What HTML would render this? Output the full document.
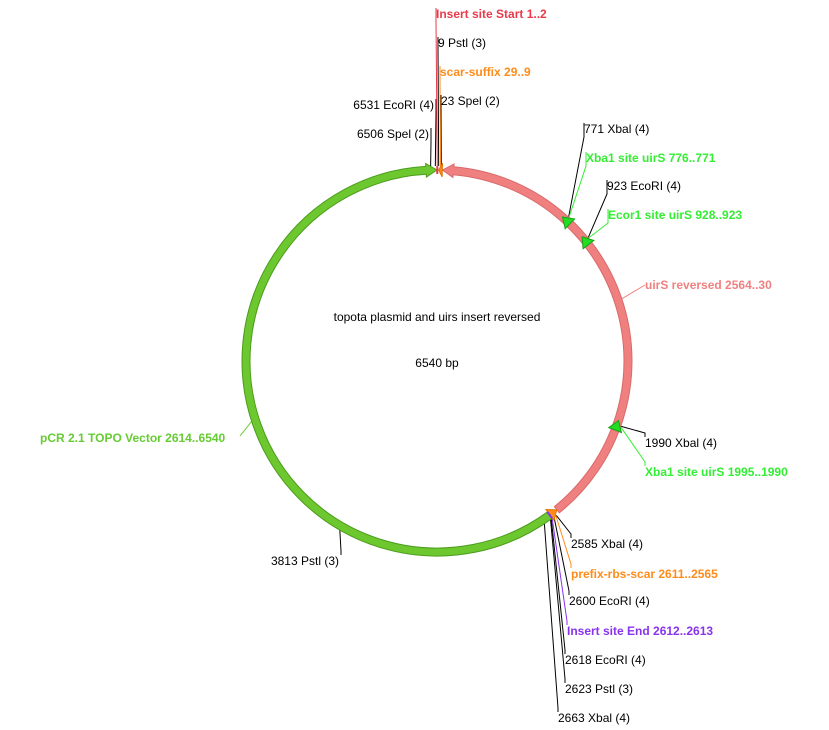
<!DOCTYPE html>
<html><head><meta charset="utf-8"><style>
html,body{margin:0;padding:0;background:#fff}
svg{display:block;font-family:"Liberation Sans",Arial,sans-serif;font-size:12px}
.b{font-weight:bold}
</style></head><body>
<svg id="map" width="829" height="730" viewBox="0 0 829 730"></svg>
<script>
const totalBp = 6540;
const featureNames = ["uirS reversed","pCR 2.1 TOPO Vector","Xba1 site uirS 776..771","Ecor1 site uirS 928..923","Xba1 site uirS 1995..1990","scar-suffix","prefix-rbs-scar","Insert site Start","Insert site End"];
const featureStart = [30,2614,771,923,1990,9,2565,1,2612];
const featureEnd = [2564,6540,776,928,1995,29,2611,2,2613];
const featureReverse = [true,false,true,true,true,true,true,false,false];
const siteLabels = ["9 Pstl (3)","23 Spel (2)","6531 EcoRI (4)","6506 Spel (2)","771 Xbal (4)","923 EcoRI (4)","1990 Xbal (4)","3813 Pstl (3)","2585 Xbal (4)","2600 EcoRI (4)","2618 EcoRI (4)","2623 Pstl (3)","2663 Xbal (4)"];
const sitePos = [9,23,6531,6506,771,923,1990,3813,2585,2600,2618,2623,2663];

const featStyle = [
 {fill:"#f08080",stroke:"#d86a6a",min:0,label:"uirS reversed 2564..30",color:"#f08080",lx:645,ly:289,a:"start",ax:645,ay:285},
 {fill:"#6cc82e",stroke:"#4c9c1c",min:0,label:"pCR 2.1 TOPO Vector 2614..6540",color:"#66cc33",lx:40,ly:442,a:"start",ax:240,ay:436},
 {fill:"#22dd22",stroke:"#18a018",min:55,label:"Xba1 site uirS 776..771",color:"#33ee33",lx:586,ly:162,a:"start"},
 {fill:"#22dd22",stroke:"#18a018",min:55,label:"Ecor1 site uirS 928..923",color:"#33ee33",lx:608,ly:219,a:"start"},
 {fill:"#22dd22",stroke:"#18a018",min:55,label:"Xba1 site uirS 1995..1990",color:"#33ee33",lx:645,ly:476,a:"start"},
 {fill:"#ff8c1a",stroke:"#e07000",min:0,label:"scar-suffix 29..9",color:"#ff8c1a",lx:440,ly:76,a:"start"},
 {fill:"#ff8c1a",stroke:"#e07000",min:0,label:"prefix-rbs-scar 2611..2565",color:"#ff8c1a",lx:571,ly:578,a:"start"},
 {fill:"#e83a4a",stroke:"#e83a4a",min:-1,label:"Insert site Start 1..2",color:"#e83a4a",lx:436,ly:18,a:"start"},
 {fill:"#8833ee",stroke:"#8833ee",min:-1,label:"Insert site End 2612..2613",color:"#8833ee",lx:567,ly:635,a:"start"}
];
const siteLayout = [
 {lx:438,ly:47,a:"start"},{lx:441,ly:105,a:"start"},{lx:434,ly:109,a:"end"},{lx:429,ly:138,a:"end"},
 {lx:584,ly:133,a:"start"},{lx:607,ly:190,a:"start"},{lx:645,ly:447,a:"start"},{lx:339,ly:565,a:"end"},
 {lx:571,ly:548,a:"start"},{lx:569,ly:605,a:"start"},{lx:565,ly:664,a:"start"},{lx:565,ly:693,a:"start"},{lx:558,ly:722,a:"start"}
];
const cx=437, cy=361, R=191, W=8;
const svg=document.getElementById('map');
const NS="http://www.w3.org/2000/svg";
function ang(bp){return bp/totalBp*2*Math.PI;}
function pt(bp,r){const a=ang(bp);return [cx+r*Math.sin(a), cy-r*Math.cos(a)];}
function P(p){return p[0].toFixed(2)+" "+p[1].toFixed(2);}
function mk(tag,attrs){const e=document.createElementNS(NS,tag);for(const k in attrs)e.setAttribute(k,attrs[k]);svg.appendChild(e);return e;}

function featPath(s,e,rev,minSpan){
  const ri=R-W/2, ro=R+W/2, hw=W*0.85;
  if(minSpan<0){const m=(s+e)/2;return `M${P(pt(m,ri))} L${P(pt(m,ro))}`;}
  if(e-s<minSpan){const m=(s+e)/2;s=m-minSpan/2;e=m+minSpan/2;}
  const head=Math.min(e-s,60);
  if(e-s<=head+1){
    if(rev){const t=pt(s,R),ho=pt(e,R+hw),hi=pt(e,R-hw);return `M${P(t)} L${P(ho)} L${P(hi)} Z`;}
    const t=pt(e,R),ho=pt(s,R+hw),hi=pt(s,R-hw);return `M${P(t)} L${P(ho)} L${P(hi)} Z`;
  }
  let a0=s,a1=e;
  if(rev)a0=s+head;else a1=e-head;
  const large=(a1-a0)/totalBp>0.5?1:0;
  const p1=pt(a0,ro),p2=pt(a1,ro),p3=pt(a1,ri),p4=pt(a0,ri);
  if(rev){
    const t=pt(s,R), ho=pt(a0,R+hw), hi=pt(a0,R-hw);
    return `M${P(p1)} A${ro} ${ro} 0 ${large} 1 ${P(p2)} L${P(p3)} A${ri} ${ri} 0 ${large} 0 ${P(p4)} L${P(hi)} L${P(t)} L${P(ho)} Z`;
  }
  const t=pt(e,R), ho=pt(a1,R+hw), hi=pt(a1,R-hw);
  return `M${P(p1)} A${ro} ${ro} 0 ${large} 1 ${P(p2)} L${P(ho)} L${P(t)} L${P(hi)} L${P(p3)} A${ri} ${ri} 0 ${large} 0 ${P(p4)} Z`;
}
function leader(from,tx,ty,color){
  const mid=[tx, ty+ (from[1]>ty? 14 : -4)];
  mk('polyline',{points:`${P(from)} ${P(mid)} ${tx} ${ty}`,fill:"none",stroke:color,"stroke-width":1});
}

sitePos.forEach((p,i)=>{
  const L=siteLayout[i];
  const tx=L.a==="end"?L.lx+2:L.lx;
  leader(pt(p,R+4),tx,L.ly-10,"#000");
});
featStyle.forEach((f,i)=>{
  const mid=(featureStart[i]+featureEnd[i])/2;
  if(f.ax!==undefined){const q=pt(mid,R+4);mk('line',{x1:f.ax,y1:f.ay,x2:q[0],y2:q[1],stroke:f.color,"stroke-width":1});}
  else leader(pt(mid,R+4),f.lx,f.ly-10,f.color);
});
[1,0,2,3,4,5,6,7,8].forEach(i=>{
  const f=featStyle[i];
  const el=mk('path',{d:featPath(featureStart[i],featureEnd[i],featureReverse[i],f.min),fill:f.fill,stroke:f.stroke,"stroke-width":f.min<0?2:1});
  
  
});
sitePos.forEach((p,i)=>{
  const L=siteLayout[i];
  const t=mk('text',{x:L.lx,y:L.ly,"text-anchor":L.a,fill:"#000"});
  t.textContent=siteLabels[i];
  
  
});
featStyle.forEach((f,i)=>{
  const t=mk('text',{x:f.lx,y:f.ly,"text-anchor":f.a,fill:f.color,class:"b"});
  t.textContent=f.label;
  
  
});
const t1=mk('text',{x:437,y:321,"text-anchor":"middle",fill:"#000"});t1.textContent="topota plasmid and uirs insert reversed";


const t2=mk('text',{x:437,y:367,"text-anchor":"middle",fill:"#000"});t2.textContent=totalBp+" bp";


</script>
</body></html>
